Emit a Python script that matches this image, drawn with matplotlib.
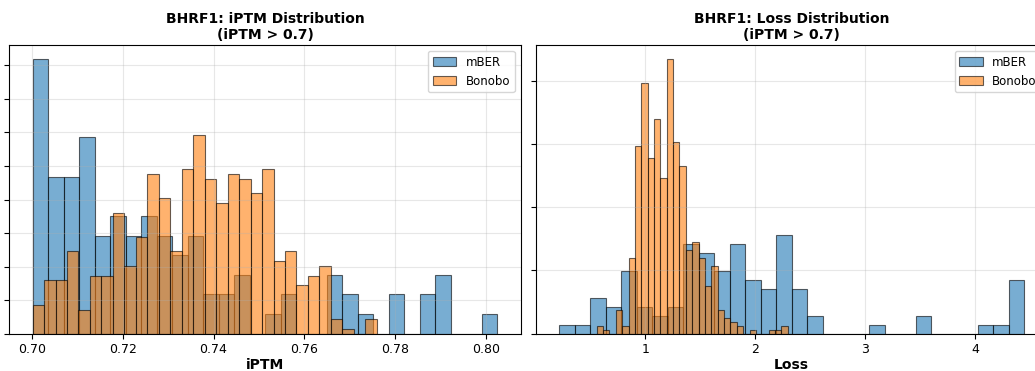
import matplotlib
matplotlib.use("Agg")
import matplotlib.pyplot as plt
import numpy as np

# per-bin counts (30 bins each, density histograms)
iptm_range_mber = (0.7001, 0.8026)
iptm_counts_mber = [14, 8, 8, 10, 5, 6, 5, 6, 5, 4, 5, 2, 2, 3, 0, 1, 2, 0, 0, 3,
                    2, 1, 0, 2, 0, 2, 3, 0, 0, 1]
iptm_range_bonobo = (0.7001, 0.7760)
iptm_counts_bonobo = [6, 11, 11, 17, 5, 12, 12, 25, 14, 20, 33, 28, 17, 34, 41, 32,
                      27, 33, 32, 29, 34, 15, 17, 10, 12, 14, 3, 1, 0, 3]

loss_range_mber = (0.218, 4.445)
loss_counts_mber = [1, 1, 4, 3, 7, 3, 2, 3, 10, 9, 7, 10, 6, 5, 11, 5, 2, 0, 0, 0,
                    1, 0, 0, 2, 0, 0, 0, 1, 1, 6]
loss_range_bonobo = (0.558, 2.295)
loss_counts_bonobo = [2, 1, 0, 6, 2, 19, 47, 63, 44, 54, 39, 69, 48, 42, 21, 23,
                      19, 12, 17, 6, 4, 3, 2, 0, 1, 0, 0, 1, 1, 2]


def draw_hist(ax, rng, counts, color, label):
    edges = np.linspace(rng[0], rng[1], len(counts) + 1)
    ax.hist(edges[:-1], bins=edges, weights=counts, density=True,
            alpha=0.6, color=color, edgecolor='black', linewidth=0.8, label=label)


fig = plt.figure(figsize=(10.35, 3.71), dpi=100)
ax1 = fig.add_axes([0.009, 0.1005, 0.4941, 0.7782])
ax2 = fig.add_axes([0.5179, 0.1005, 0.4941, 0.7782])

draw_hist(ax1, iptm_range_mber, iptm_counts_mber, 'tab:blue', 'mBER')
draw_hist(ax1, iptm_range_bonobo, iptm_counts_bonobo, 'tab:orange', 'Bonobo')
draw_hist(ax2, loss_range_mber, loss_counts_mber, 'tab:blue', 'mBER')
draw_hist(ax2, loss_range_bonobo, loss_counts_bonobo, 'tab:orange', 'Bonobo')

ax1.set_title('BHRF1: iPTM Distribution\n(iPTM > 0.7)', fontsize=10,
              fontweight='bold', pad=4)
ax1.set_xlabel('iPTM', fontsize=10, fontweight='bold', labelpad=1)
ax2.set_title('BHRF1: Loss Distribution\n(iPTM > 0.7)', fontsize=10,
              fontweight='bold', pad=4)
ax2.set_xlabel('Loss', fontsize=10, fontweight='bold', labelpad=1)

ax1.set_yticks(np.arange(0, 45, 5))
ax2.set_yticks(np.arange(0, 2.5, 0.5))

for ax in (ax1, ax2):
    ax.grid(True, alpha=0.3)
    ax.legend(loc='upper right', fontsize=8.5)
    ax.tick_params(axis='y', labelleft=False)
    ax.tick_params(axis='x', labelsize=9)

fig.savefig('out.png', dpi=100)
